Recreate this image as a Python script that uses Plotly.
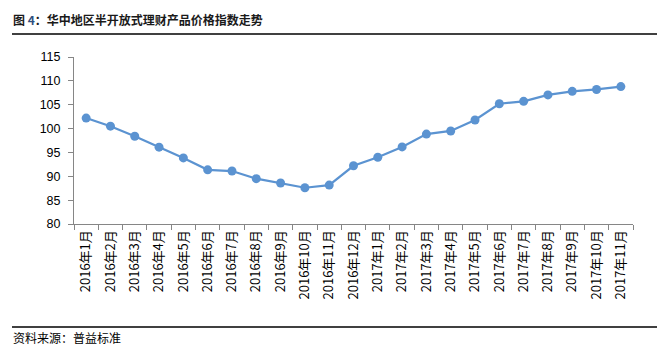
import plotly.graph_objects as go

# Monthly price index of semi-open wealth-management products (Central China)
months = ["2016年1月", "2016年2月", "2016年3月", "2016年4月", "2016年5月", "2016年6月",
          "2016年7月", "2016年8月", "2016年9月", "2016年10月", "2016年11月", "2016年12月",
          "2017年1月", "2017年2月", "2017年3月", "2017年4月", "2017年5月", "2017年6月",
          "2017年7月", "2017年8月", "2017年9月", "2017年10月", "2017年11月"]
index_values = [102.2, 100.5, 98.4, 96.1, 93.85, 91.35, 91.1, 89.5, 88.6, 87.6, 88.15, 92.2,
                94.0, 96.15, 98.85, 99.5, 101.8, 105.2, 105.7, 107.05, 107.8, 108.2, 108.8]
y_ticks = [80, 85, 90, 95, 100, 105, 110, 115]

title_text = "图 <span style='color:#2f4f7f'>4</span>：华中地区半开放式理财产品价格指数走势"
source_text = "资料来源：普益标准"

cjk = "Noto Sans CJK SC"
axis_grey = "#868686"

fig = go.Figure()
fig.add_trace(go.Scatter(
    x=months, y=index_values, mode="lines+markers",
    line=dict(color="#5b93d1", width=2.2),
    marker=dict(color="#5b93d1", size=9),
    showlegend=False, hoverinfo="x+y",
))

# plot area spans x 74..633 px, y 57..224 px
W, H = 658, 350
ml, mr, mt, mb = 74, 25, 57, 126
pw, ph = W - ml - mr, H - mt - mb


def px_x(x):
    return (x - ml) / pw


def px_y(y):
    return (H - mb - y) / ph


fig.update_layout(
    width=W, height=H,
    margin=dict(l=ml, r=mr, t=mt, b=mb),
    paper_bgcolor="white", plot_bgcolor="white",
    font=dict(family=cjk, size=12, color="#000000"),
    xaxis=dict(
        type="category", range=[-0.5, len(months) - 0.5],
        showline=True, linecolor=axis_grey, linewidth=1,
        ticks="outside", tickson="boundaries", ticklen=5, tickcolor=axis_grey,
        tickangle=-90, showgrid=False, zeroline=False,
        tickfont=dict(family=cjk, size=13, color="#000000"),
    ),
    yaxis=dict(
        range=[80, 115], tickvals=y_ticks,
        showline=True, linecolor=axis_grey, linewidth=1,
        ticks="outside", ticklen=5, tickcolor=axis_grey,
        ticklabelstandoff=5,
        showgrid=False, zeroline=False,
        tickfont=dict(family="Liberation Sans", size=12.5, color="#000000"),
    ),
    shapes=[
        dict(type="line", xref="paper", yref="paper",
             x0=px_x(12), x1=px_x(657), y0=px_y(34), y1=px_y(34),
             line=dict(color="#000000", width=1.5)),
        dict(type="line", xref="paper", yref="paper",
             x0=px_x(12), x1=px_x(657), y0=px_y(327), y1=px_y(327),
             line=dict(color="#000000", width=1.5)),
    ],
    annotations=[
        dict(text="<b>" + title_text + "</b>", xref="paper", yref="paper",
             x=px_x(11), y=px_y(20), xanchor="left", yanchor="middle",
             showarrow=False, font=dict(family=cjk, size=12, color="#1a1a1a")),
        dict(text=source_text, xref="paper", yref="paper",
             x=px_x(11), y=px_y(337), xanchor="left", yanchor="middle",
             showarrow=False, font=dict(family=cjk, size=12, color="#000000")),
    ],
)

fig.write_html("out.html")
